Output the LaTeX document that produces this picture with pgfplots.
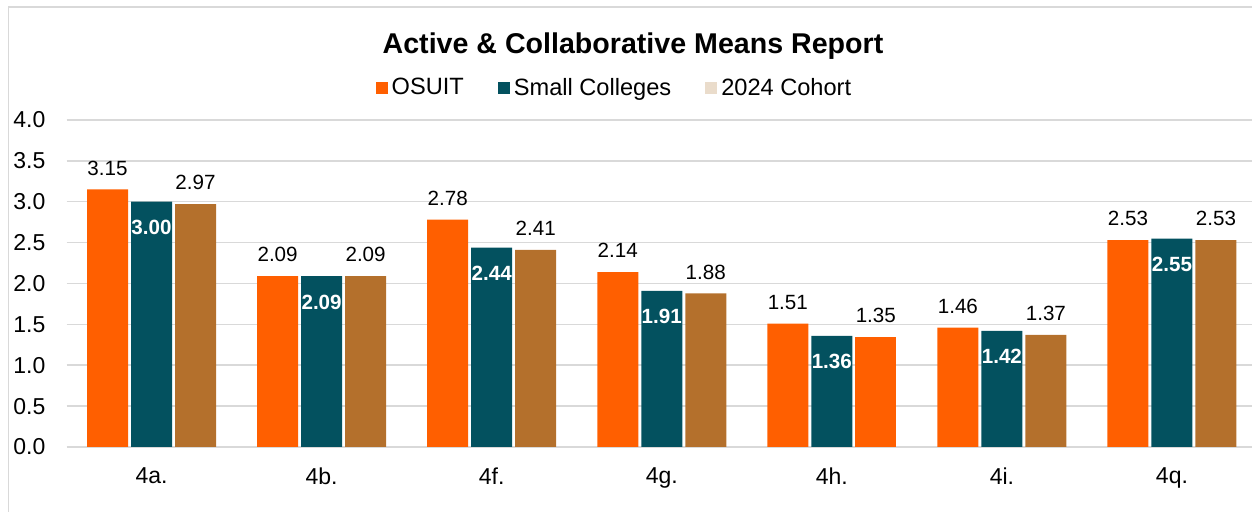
\documentclass[border=0pt]{standalone}
\usepackage{pgfplots}
\pgfplotsset{compat=1.18}
\usepackage{fontspec}
\setmainfont{Liberation Sans}
\definecolor{osuit}{HTML}{FF5F00}
\definecolor{small}{HTML}{03515F}
\definecolor{cohort}{HTML}{B4702C}
\definecolor{pale}{HTML}{EADCCB}
\definecolor{gridc}{HTML}{D9D9D9}
\begin{document}
\begin{tikzpicture}
\useasboundingbox (0,0) rectangle (626pt,256pt);
\draw[gridc, line width=0.8pt] (4.25pt,-5pt) |- (632pt,252.5pt);
\begin{axis}[
  at={(33.25pt,32.5pt)}, anchor=south west,
  scale only axis, width=595.25pt, height=163.5pt,
  ybar=1.5pt, bar width=20.5pt,
  xmin=-0.5, xmax=6.5, ymin=0, ymax=4,
  xtick={0,...,6}, xticklabels={4a.,4b.,4f.,4g.,4h.,4i.,4q.},
  ytick={0,0.5,...,4},
  ymajorgrids, grid style={gridc, line width=0.75pt},
  axis line style={draw=none}, tick style={draw=none},
  /pgf/number format/assume math mode=true,
  yticklabel style={/pgf/number format/fixed, /pgf/number format/fixed zerofill, /pgf/number format/precision=1, font=\fontsize{11.5}{13}\selectfont, xshift=-7pt},
  xticklabel style={font=\fontsize{11.5}{13}\selectfont, yshift=-2.7pt},
  scaled y ticks=false,
  clip=false,
  nodes near coords,
  point meta=y,
  nodes near coords style={/pgf/number format/fixed, /pgf/number format/fixed zerofill, /pgf/number format/precision=2, font=\fontsize{10.3}{12}\selectfont},
  legend style={at={(0.4611,1.0979)}, anchor=center, draw=none, fill=none, legend columns=-1,
    font=\fontsize{11.8}{13}\selectfont,
    /tikz/every even column/.append style={column sep=15pt},
    inner sep=0pt},
  legend image code/.code={\fill[#1] (0pt,-3pt) rectangle (6pt,3pt);},
]
\addplot[fill=osuit, draw=none, bar shift=-22pt, every node near coord/.append style={anchor=south, black, yshift=3.5pt}] coordinates {(0,3.15) (1,2.09) (2,2.78) (3,2.14) (4,1.51) (5,1.46) (6,2.53)};
\addlegendentry{OSUIT}
\addplot[fill=small, draw=none, bar shift=0pt, every node near coord/.append style={anchor=north, white, font=\fontsize{10.3}{12}\selectfont\bfseries, yshift=-5.8pt}] coordinates {(0,3.00) (1,2.09) (2,2.44) (3,1.91) (4,1.36) (5,1.42) (6,2.55)};
\addlegendentry{Small Colleges}
\addplot[fill=cohort, draw=none, bar shift=22pt, legend image post style={fill=pale}, every node near coord/.append style={anchor=south, black, yshift=3.5pt}] coordinates {(0,2.97) (1,2.09) (2,2.41) (3,1.88) (5,1.37) (6,2.53)};
\addlegendentry{2024 Cohort}
\addplot[forget plot, fill=osuit, draw=none, bar shift=22pt, every node near coord/.append style={anchor=south, black, yshift=3.5pt}] coordinates {(4,1.35)};
\end{axis}
\node[font=\fontsize{14.3}{16}\selectfont\bfseries] at (316.5pt,233pt) {Active \& Collaborative Means Report};
\end{tikzpicture}
\end{document}
